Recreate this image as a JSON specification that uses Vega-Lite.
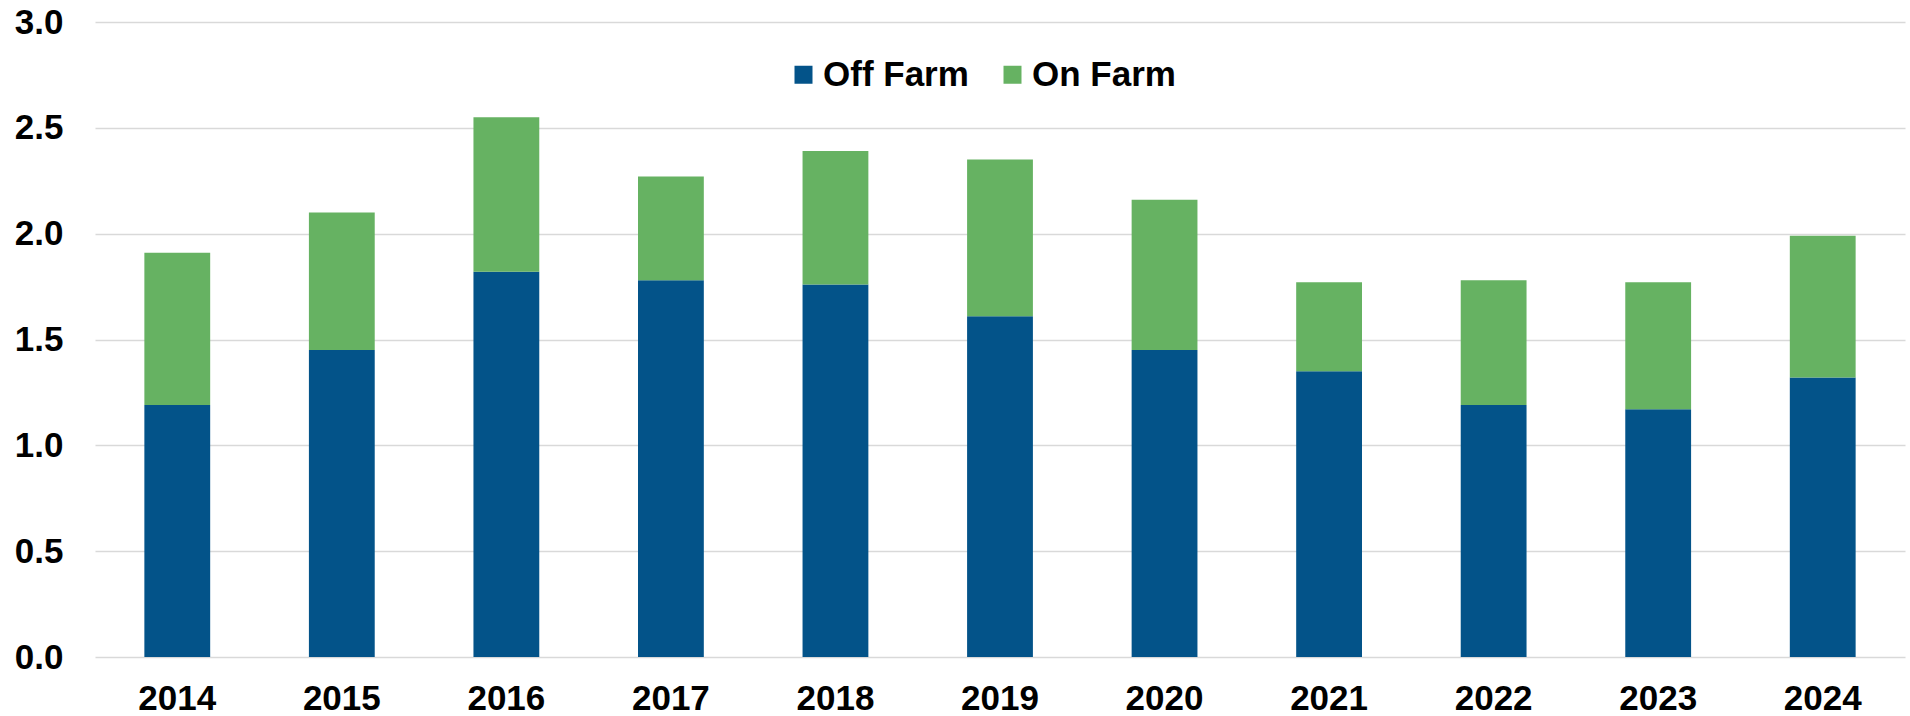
{
  "$schema": "https://vega.github.io/schema/vega-lite/v6.json",
  "autosize": {"type": "none"},
  "padding": {"left": 95, "top": 22, "right": 5, "bottom": 59},
  "width": 1810,
  "height": 635,
  "background": "white",
  "config": {
    "view": {"stroke": null},
    "font": "Liberation Sans"
  },
  "data": {
    "values": [
      {"year": "2014", "type": "Off Farm", "value": 1.19},
      {"year": "2014", "type": "On Farm", "value": 0.72},
      {"year": "2015", "type": "Off Farm", "value": 1.45},
      {"year": "2015", "type": "On Farm", "value": 0.65},
      {"year": "2016", "type": "Off Farm", "value": 1.82},
      {"year": "2016", "type": "On Farm", "value": 0.73},
      {"year": "2017", "type": "Off Farm", "value": 1.78},
      {"year": "2017", "type": "On Farm", "value": 0.49},
      {"year": "2018", "type": "Off Farm", "value": 1.76},
      {"year": "2018", "type": "On Farm", "value": 0.63},
      {"year": "2019", "type": "Off Farm", "value": 1.61},
      {"year": "2019", "type": "On Farm", "value": 0.74},
      {"year": "2020", "type": "Off Farm", "value": 1.45},
      {"year": "2020", "type": "On Farm", "value": 0.71},
      {"year": "2021", "type": "Off Farm", "value": 1.35},
      {"year": "2021", "type": "On Farm", "value": 0.42},
      {"year": "2022", "type": "Off Farm", "value": 1.19},
      {"year": "2022", "type": "On Farm", "value": 0.59},
      {"year": "2023", "type": "Off Farm", "value": 1.17},
      {"year": "2023", "type": "On Farm", "value": 0.60},
      {"year": "2024", "type": "Off Farm", "value": 1.32},
      {"year": "2024", "type": "On Farm", "value": 0.67}
    ]
  },
  "mark": {"type": "bar"},
  "encoding": {
    "x": {
      "field": "year",
      "type": "nominal",
      "scale": {"paddingInner": 0.6, "paddingOuter": 0.3},
      "axis": {
        "title": null,
        "labelAngle": 0,
        "labelFont": "Liberation Sans",
        "labelFontSize": 35,
        "labelFontWeight": "bold",
        "labelColor": "black",
        "labelPadding": 24,
        "ticks": false,
        "tickSize": 0,
        "domain": false,
        "grid": false
      }
    },
    "y": {
      "field": "value",
      "type": "quantitative",
      "stack": "zero",
      "scale": {"domain": [0, 3], "nice": false},
      "axis": {
        "title": null,
        "values": [0, 0.5, 1, 1.5, 2, 2.5, 3],
        "format": ".1f",
        "labelFont": "Liberation Sans",
        "labelFontSize": 35,
        "labelFontWeight": "bold",
        "labelColor": "black",
        "labelPadding": 32,
        "ticks": false,
        "tickSize": 0,
        "domain": false,
        "grid": true,
        "gridColor": "#d9d9d9",
        "gridWidth": 1.5
      }
    },
    "color": {
      "field": "type",
      "type": "nominal",
      "scale": {"domain": ["Off Farm", "On Farm"], "range": ["#035389", "#66b262"]},
      "legend": {
        "title": null,
        "orient": "none",
        "direction": "horizontal",
        "legendX": 691,
        "legendY": 35,
        "symbolType": "square",
        "symbolSize": 324,
        "symbolStrokeWidth": 0,
        "labelFont": "Liberation Sans",
        "labelFontSize": 35,
        "labelFontWeight": "bold",
        "labelColor": "black",
        "labelOffset": 2,
        "columnPadding": 26
      }
    },
    "order": {"field": "type", "sort": "ascending"}
  }
}
